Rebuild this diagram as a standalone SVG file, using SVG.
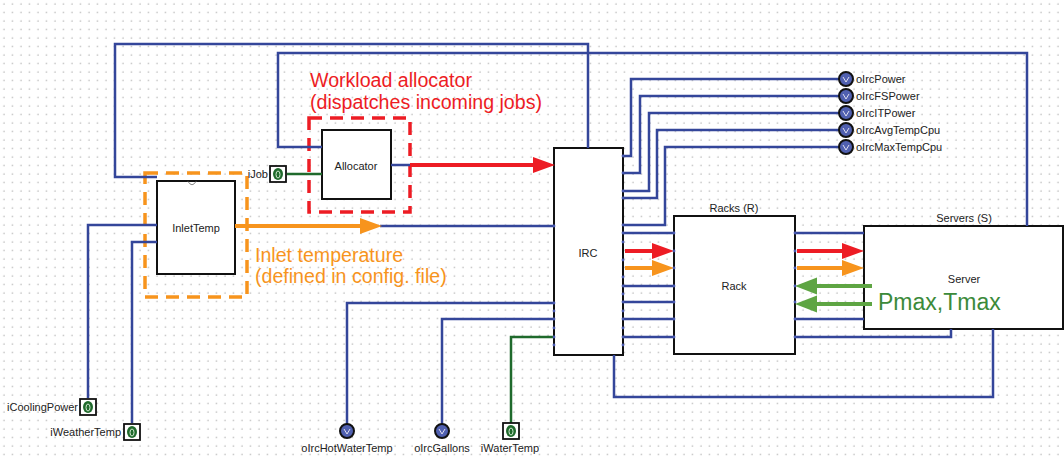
<svg xmlns="http://www.w3.org/2000/svg" width="1064" height="457" viewBox="0 0 1064 457">
<style>
.bg{fill:url(#grid)}
.box{fill:#fff;stroke:#111;stroke-width:2}
.lbl{font-family:"Liberation Sans",Arial,sans-serif;font-size:11px;fill:#222}
.mid{text-anchor:middle}
.end{text-anchor:end}
.w{fill:none;stroke:#34469a;stroke-width:2.5;stroke-linejoin:miter}
.g{fill:none;stroke:#1f6a2c;stroke-width:2.5}
.ar{fill:none;stroke:#ed1c24;stroke-width:4}
.ao{fill:none;stroke:#f7941d;stroke-width:4}
.ag{fill:none;stroke:#5ea543;stroke-width:4}
.dr{fill:none;stroke:#ed1c24;stroke-width:3.5;stroke-dasharray:13 8}
.do{fill:none;stroke:#f7941d;stroke-width:3.5;stroke-dasharray:13 8}
.big{font-family:"Liberation Sans",Arial,sans-serif;font-size:19.6px}
.port{fill:#4a5ab0}
</style>
<defs>
<pattern id="grid" width="8.5" height="8.5" patternUnits="userSpaceOnUse">
<rect width="8.5" height="8.5" fill="#fff"/>
<circle cx="4" cy="4" r="0.75" fill="#aaaaaa"/>
</pattern>
<marker id="mr" markerUnits="userSpaceOnUse" markerWidth="24" markerHeight="18" refX="2" refY="8" orient="auto"><path d="M0,0 L22,8 L0,16 z" fill="#ed1c24"/></marker>
<marker id="mo" markerUnits="userSpaceOnUse" markerWidth="24" markerHeight="18" refX="2" refY="8" orient="auto"><path d="M0,0 L22,8 L0,16 z" fill="#f7941d"/></marker>
<marker id="mg" markerUnits="userSpaceOnUse" markerWidth="24" markerHeight="18" refX="2" refY="8.5" orient="auto"><path d="M0,0 L22,8.5 L0,17 z" fill="#5ea543"/></marker>
<g id="inIcon">
<rect x="-8" y="-8" width="16" height="16" fill="#fff" stroke="#111" stroke-width="1.8"/>
<ellipse cx="0" cy="0" rx="5" ry="6" fill="#1f6a2c"/>
<ellipse cx="0" cy="0.5" rx="2" ry="3.5" fill="none" stroke="#cfe8cf" stroke-width="1"/>
</g>
<g id="outIcon">
<circle cx="0" cy="0" r="7" fill="#5060b0" stroke="#111" stroke-width="2"/>
<path d="M-3,-2 L0,3 L3,-2" fill="none" stroke="#dde" stroke-width="1"/>
</g>
</defs>
<rect class="bg" x="0" y="0" width="1064" height="457"/>

<g id="allocator-group">
<rect class="dr" x="309" y="118" width="101" height="94"/>
<text class="big" x="310" y="87" fill="#ed1c24">Workload allocator</text>
<text class="big" x="310" y="109" fill="#ed1c24">(dispatches incoming jobs)</text>
</g>
<g id="allocator">
<rect class="box" x="322" y="130" width="69" height="69"/>
<text class="lbl mid" x="356" y="170">Allocator</text>
</g>

<g id="inlet-group">
<rect class="do" x="145" y="173" width="102" height="124"/>
<text class="big" x="255" y="262" fill="#f7941d">Inlet temperature</text>
<text class="big" x="255" y="283" fill="#f7941d">(defined in config. file)</text>
</g>
<g id="inlettemp">
<rect class="box" x="157" y="181" width="78" height="93"/>
<path d="M188,181.5 Q192,188 196,181.5" fill="none" stroke="#888" stroke-width="1"/>
<text class="lbl mid" x="196" y="232">InletTemp</text>
</g>

<g id="irc">
<rect class="box" x="554" y="148" width="69" height="207"/>
<text class="lbl mid" x="588" y="257">IRC</text>
</g>

<g id="rack">
<rect class="box" x="674" y="216" width="121" height="138"/>
<text class="lbl mid" x="734" y="212">Racks (R)</text>
<text class="lbl mid" x="734" y="290">Rack</text>
</g>

<g id="server">
<rect class="box" x="864" y="226" width="199" height="103"/>
<text class="lbl mid" x="964" y="222">Servers (S)</text>
<text class="lbl mid" x="964" y="283">Server</text>
<text x="878" y="310" font-family="Liberation Sans, Arial, sans-serif" font-size="23" fill="#3c8a3a">Pmax,Tmax</text>
</g>

<g id="connectors">
<path class="w" d="M157,177 H115 V44 H588 V148"/>
<path class="w" d="M322,147 H278 V53 H1027 V226"/>
<path class="w" d="M391,165 H410"/>
<path class="w" d="M380,226 H554"/>
<path class="w" d="M88,398 V225 H157"/>
<path class="w" d="M132,423 V242 H157"/>
<path class="w" d="M623,156 H631 V79 H839"/>
<path class="w" d="M623,173 H640 V96 H839"/>
<path class="w" d="M623,191 H649 V113 H839"/>
<path class="w" d="M623,198 H657 V130 H839"/>
<path class="w" d="M623,225 H665 V147 H839"/>
<path class="w" d="M623,233 H674 M623,286 H674 M623,302 H674 M623,319 H674 M623,337 H674"/>
<path class="w" d="M795,233 H864 M795,319 H864"/>
<path class="w" d="M795,337 H951 V329"/>
<path class="w" d="M614,355 V397 H993 V329"/>
<path class="w" d="M554,303 H347 V424"/>
<path class="w" d="M554,319 H442 V424"/>
<path class="g" d="M554,337 H511 V423"/>
<path class="g" d="M287,174 H322"/>
<path class="ar" d="M410,165 H535" marker-end="url(#mr)"/>
<path class="ao" d="M235,226 H362" marker-end="url(#mo)"/>
<path class="ar" d="M625,251 H654" marker-end="url(#mr)"/>
<path class="ao" d="M625,268 H654" marker-end="url(#mo)"/>
<path class="ar" d="M797,251 H844" marker-end="url(#mr)"/>
<path class="ao" d="M797,268 H844" marker-end="url(#mo)"/>
<path class="ag" d="M872,286 H815" marker-end="url(#mg)"/>
<path class="ag" d="M872,304 H815" marker-end="url(#mg)"/>
<g class="port">
<circle cx="623" cy="156" r="1.4"/><circle cx="623" cy="173" r="1.4"/><circle cx="623" cy="191" r="1.4"/><circle cx="623" cy="198" r="1.4"/><circle cx="623" cy="225" r="1.4"/><circle cx="623" cy="233" r="1.4"/><circle cx="623" cy="242" r="1.4"/><circle cx="623" cy="260" r="1.4"/><circle cx="623" cy="277" r="1.4"/><circle cx="623" cy="286" r="1.4"/><circle cx="623" cy="294" r="1.4"/><circle cx="623" cy="302" r="1.4"/><circle cx="623" cy="311" r="1.4"/><circle cx="623" cy="319" r="1.4"/><circle cx="623" cy="328" r="1.4"/><circle cx="623" cy="337" r="1.4"/><circle cx="623" cy="345" r="1.4"/>
<circle cx="554" cy="226" r="1.4"/><circle cx="554" cy="303" r="1.4"/><circle cx="554" cy="311" r="1.4"/><circle cx="554" cy="319" r="1.4"/><circle cx="554" cy="328" r="1.4"/><circle cx="554" cy="337" r="1.4"/><circle cx="554" cy="345" r="1.4"/>
<circle cx="674" cy="233" r="1.4"/><circle cx="674" cy="251" r="1.4"/><circle cx="674" cy="268" r="1.4"/><circle cx="674" cy="286" r="1.4"/><circle cx="674" cy="302" r="1.4"/><circle cx="674" cy="319" r="1.4"/><circle cx="674" cy="337" r="1.4"/>
<circle cx="795" cy="233" r="1.4"/><circle cx="795" cy="251" r="1.4"/><circle cx="795" cy="268" r="1.4"/><circle cx="795" cy="286" r="1.4"/><circle cx="795" cy="302" r="1.4"/><circle cx="795" cy="319" r="1.4"/><circle cx="795" cy="337" r="1.4"/>
</g>
</g>

<g id="iJob">
<use href="#inIcon" x="278" y="174"/>
<text class="lbl end" x="268" y="178">iJob</text>
</g>
<g id="iCoolingPower">
<use href="#inIcon" x="88" y="407"/>
<text class="lbl end" x="78" y="411">iCoolingPower</text>
</g>
<g id="iWeatherTemp">
<use href="#inIcon" x="132" y="432"/>
<text class="lbl end" x="121" y="436">iWeatherTemp</text>
</g>
<g id="iWaterTemp">
<use href="#inIcon" x="511" y="431"/>
<text class="lbl mid" x="510" y="452">iWaterTemp</text>
</g>
<g id="oIrcHotWaterTemp">
<use href="#outIcon" x="347" y="431"/>
<text class="lbl mid" x="347" y="452">oIrcHotWaterTemp</text>
</g>
<g id="oIrcGallons">
<use href="#outIcon" x="442" y="431"/>
<text class="lbl mid" x="442" y="452">oIrcGallons</text>
</g>
<g id="oIrcPower">
<use href="#outIcon" x="846" y="79"/>
<text class="lbl" x="856" y="83">oIrcPower</text>
</g>
<g id="oIrcFSPower">
<use href="#outIcon" x="846" y="96"/>
<text class="lbl" x="856" y="100">oIrcFSPower</text>
</g>
<g id="oIrcITPower">
<use href="#outIcon" x="846" y="113"/>
<text class="lbl" x="856" y="117">oIrcITPower</text>
</g>
<g id="oIrcAvgTempCpu">
<use href="#outIcon" x="846" y="130"/>
<text class="lbl" x="856" y="134">oIrcAvgTempCpu</text>
</g>
<g id="oIrcMaxTempCpu">
<use href="#outIcon" x="846" y="147"/>
<text class="lbl" x="856" y="151">oIrcMaxTempCpu</text>
</g>
</svg>
